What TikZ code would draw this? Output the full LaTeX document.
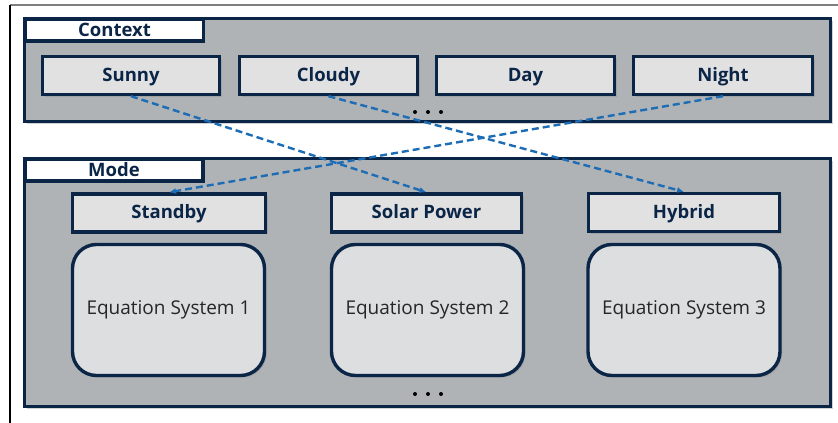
\documentclass[tikz,border=0pt]{standalone}
\usepackage{fontspec}
\setmainfont{Open Sans}
\usetikzlibrary{arrows.meta,shadows}
\definecolor{navy}{HTML}{0B2547}
\definecolor{panelgray}{HTML}{B0B3B6}
\definecolor{boxgray}{HTML}{E1E1E2}
\definecolor{eqgray}{HTML}{DCDEE0}
\definecolor{linkblue}{HTML}{1C6DB5}
\definecolor{framegray}{HTML}{7F7F7F}
\tikzset{
  panel/.style={draw=navy, line width=3.4pt, fill=panelgray, inner sep=0pt,
    drop shadow={shadow xshift=2pt, shadow yshift=-2pt, opacity=0.35}},
  tab/.style={draw=navy, line width=3.4pt, fill=white, inner sep=0pt,
    minimum width=178pt, minimum height=22pt, text=navy,
    text height=13.2pt, text depth=0pt,
    font=\fontsize{18.5}{21}\selectfont\bfseries},
  statebox/.style={draw=navy, line width=3.4pt, fill=boxgray, inner sep=0pt,
    minimum height=38pt, text=navy, text height=13.2pt, text depth=2pt,
    font=\fontsize{18.5}{21}\selectfont\bfseries,
    drop shadow={shadow xshift=2pt, shadow yshift=-2pt, opacity=0.35}},
  eqbox/.style={draw=navy, line width=3.4pt, fill=eqgray, inner sep=0pt,
    rounded corners=24pt, minimum width=192pt, minimum height=131pt,
    text=black!85, font=\fontsize{19}{22}\selectfont,
    drop shadow={shadow xshift=2pt, shadow yshift=-2pt, opacity=0.35}},
  link/.style={draw=linkblue, line width=2.4pt, dash pattern=on 7pt off 4pt,
    -{Latex[length=7pt,width=6pt]}},
  dot/.style={circle, fill=black, inner sep=0pt, minimum size=4pt}
}
\begin{document}
\begin{tikzpicture}[x=1pt,y=-1pt]
  \useasboundingbox (0,0) rectangle (838,423);
  % outer frame lines
  \draw[framegray, line width=2pt] (10,5) -- (838,5);
  \draw[black, line width=1.2pt] (10,5) -- (10,423);

  % context panel
  \node[panel, minimum width=806pt, minimum height=103pt] (ctx) at (427.5,70) {};
  \node[tab] (ctxtab) at (114.5,30) {Context};
  \node[statebox, minimum width=177pt] (sunny)  at (131,75.5) {Sunny};
  \node[statebox, minimum width=178pt] (cloudy) at (328.5,75.5) {Cloudy};
  \node[statebox, minimum width=178pt] (day)    at (525.5,75.5) {Day};
  \node[statebox, minimum width=179pt] (night)  at (723,75.5) {Night};
  \node[dot] (c1) at (415,112) {};
  \node[dot] (c2) at (428,112) {};
  \node[dot] (c3) at (441,112) {};

  % mode panel
  \node[panel, minimum width=806pt, minimum height=248pt] (mode) at (427.5,282.5) {};
  \node[tab] (modetab) at (114,170) {Mode};
  \node[statebox, minimum width=193pt] (standby) at (169,213) {Standby};
  \node[statebox, minimum width=190pt] (solar)   at (426.5,213) {Solar Power};
  \node[statebox, minimum width=191pt] (hybrid)  at (684,212.5) {Hybrid};
  \node[eqbox] (eq1) at (168.5,310) {Equation System 1};
  \node[eqbox] (eq2) at (427.5,310) {Equation System 2};
  \node[eqbox] (eq3) at (684,310) {Equation System 3};
  \node[dot] (m1) at (415,394) {};
  \node[dot] (m2) at (428,394) {};
  \node[dot] (m3) at (441,394) {};

  % context to mode transitions
  \draw[link] (sunny.south)  -- (solar.north);
  \draw[link] (cloudy.south) -- (hybrid.north);
  \draw[link] (night.south)  -- (standby.north);
\end{tikzpicture}
\end{document}
